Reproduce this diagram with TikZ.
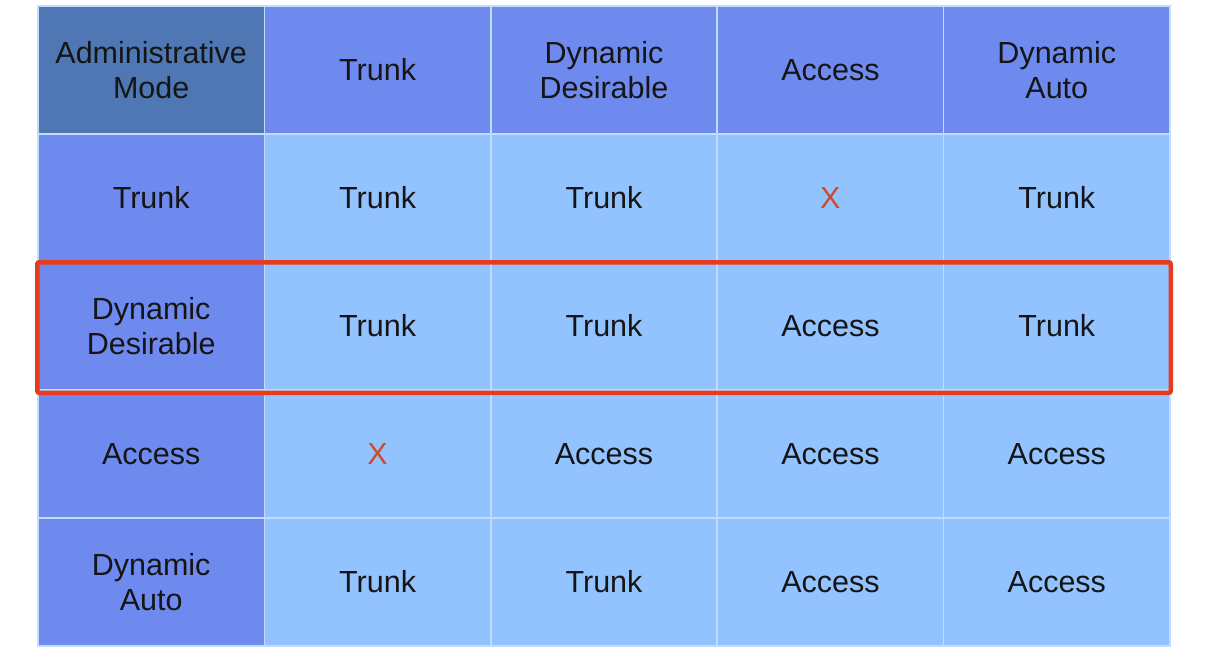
\documentclass[tikz,border=0pt]{standalone}
\usepackage{fontspec}
\setmainfont{Liberation Sans}
\definecolor{cornerblue}{HTML}{4F77B4}
\definecolor{headblue}{HTML}{6F8AEF}
\definecolor{cellblue}{HTML}{92C3FE}
\definecolor{gridline}{HTML}{C2DCFF}
\definecolor{boxred}{HTML}{E83A1C}
\definecolor{xred}{HTML}{D4482A}
\definecolor{txt}{HTML}{151515}
\begin{document}
\begin{tikzpicture}[x=1pt,y=-1pt,
  cell/.style={draw=gridline, line width=1.5pt, minimum width=226.4pt, minimum height=128pt,
    inner sep=0pt, align=center, text=txt, font=\fontsize{30.5}{35}\selectfont},
  corner/.style={cell, fill=cornerblue},
  head/.style={cell, fill=headblue},
  data/.style={cell, fill=cellblue},
  xmark/.style={text=xred},
  redbox/.style={draw=boxred, line width=4.5pt, rounded corners=2pt}]
\useasboundingbox (0,0) rectangle (1209,664);
\fill[white] (0,0) rectangle (1209,664);
% header row
\node[corner] (c00) at (151.2,70) {Administrative\\Mode};
\node[head] (c01) at (377.6,70) {Trunk};
\node[head] (c02) at (604,70) {Dynamic\\Desirable};
\node[head] (c03) at (830.4,70) {Access};
\node[head] (c04) at (1056.8,70) {Dynamic\\Auto};
% row 1
\node[head] (c10) at (151.2,198) {Trunk};
\node[data] (c11) at (377.6,198) {Trunk};
\node[data] (c12) at (604,198) {Trunk};
\node[data, xmark] (c13) at (830.4,198) {X};
\node[data] (c14) at (1056.8,198) {Trunk};
% row 2
\node[head] (c20) at (151.2,326) {Dynamic\\Desirable};
\node[data] (c21) at (377.6,326) {Trunk};
\node[data] (c22) at (604,326) {Trunk};
\node[data] (c23) at (830.4,326) {Access};
\node[data] (c24) at (1056.8,326) {Trunk};
% row 3
\node[head] (c30) at (151.2,454) {Access};
\node[data, xmark] (c31) at (377.6,454) {X};
\node[data] (c32) at (604,454) {Access};
\node[data] (c33) at (830.4,454) {Access};
\node[data] (c34) at (1056.8,454) {Access};
% row 4
\node[head] (c40) at (151.2,582) {Dynamic\\Auto};
\node[data] (c41) at (377.6,582) {Trunk};
\node[data] (c42) at (604,582) {Trunk};
\node[data] (c43) at (830.4,582) {Access};
\node[data] (c44) at (1056.8,582) {Access};
% highlight
\coordinate (hl1) at ([yshift=-1pt]c20.north west);
\coordinate (hl2) at ([yshift=-2pt]c24.south east);
\draw[redbox] (hl1) rectangle (hl2);
\end{tikzpicture}
\end{document}
